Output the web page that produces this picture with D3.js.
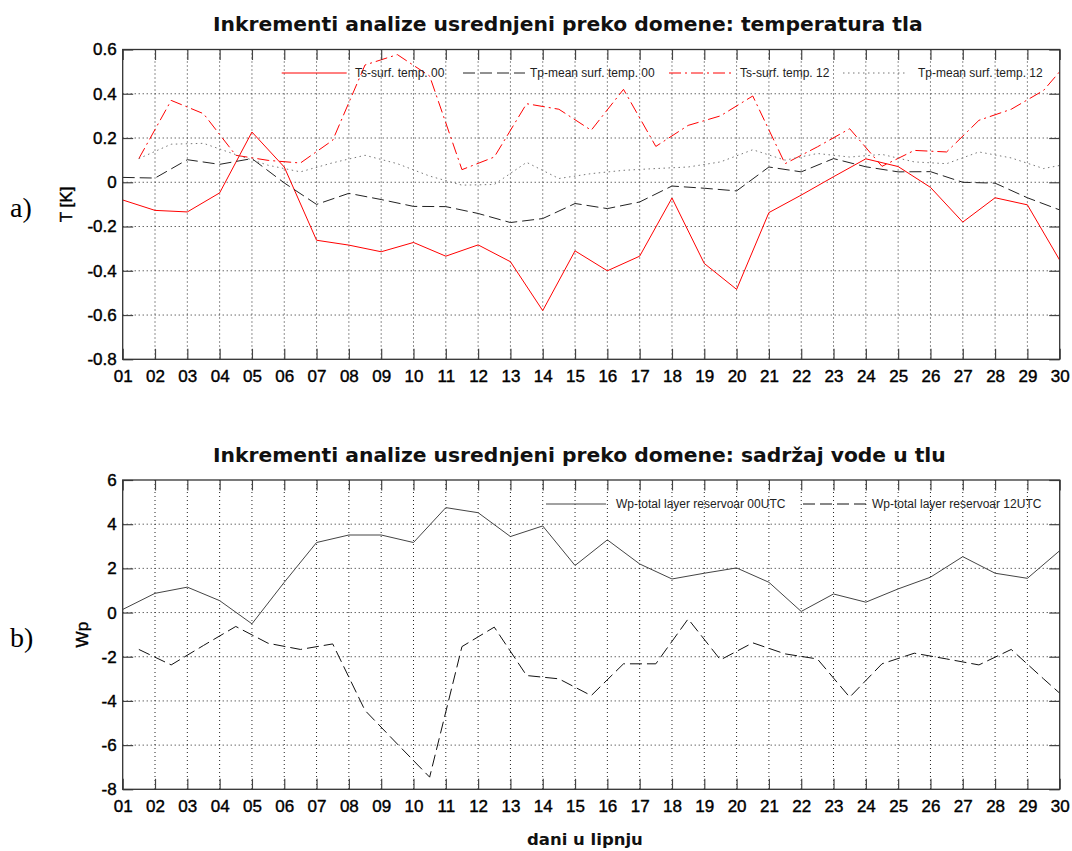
<!DOCTYPE html>
<html>
<head>
<meta charset="utf-8">
<script src="https://cdn.jsdelivr.net/npm/d3@7/dist/d3.min.js"></script>
<style>
body { margin: 0; background: #fff; }
</style>
</head>
<body>
<div id="my_dataviz"></div>
<script>
// * DATA
var dayLabels = ["01","02","03","04","05","06","07","08","09","10","11","12","13","14","15",
                 "16","17","18","19","20","21","22","23","24","25","26","27","28","29","30"];
var days00 = [1,2,3,4,5,6,7,8,9,10,11,12,13,14,15,16,17,18,19,20,21,22,23,24,25,26,27,28,29,30];
var days12 = [1.5,2.5,3.5,4.5,5.5,6.5,7.5,8.5,9.5,10.5,11.5,12.5,13.5,14.5,15.5,
              16.5,17.5,18.5,19.5,20.5,21.5,22.5,23.5,24.5,25.5,26.5,27.5,28.5,29.5,30.5];

// temperatura tla
var tsSurf00 = [-0.080,-0.127,-0.134,-0.048,0.227,0.069,-0.262,-0.284,-0.314,-0.272,
                -0.334,-0.283,-0.359,-0.580,-0.310,-0.400,-0.334,-0.071,-0.367,-0.484,
                -0.137,-0.058,0.025,0.106,0.071,-0.023,-0.180,-0.070,-0.102,-0.352];
var tpMean00 = [0.022,0.019,0.102,0.081,0.107,-0.003,-0.100,-0.050,-0.078,-0.109,
                -0.110,-0.141,-0.182,-0.164,-0.096,-0.119,-0.089,-0.017,-0.027,-0.039,
                0.069,0.047,0.107,0.070,0.047,0.048,0.000,-0.004,-0.070,-0.125];
var tsSurf12 = [0.107,0.370,0.310,0.122,0.099,0.087,0.190,0.530,0.577,0.480,
                0.057,0.114,0.355,0.330,0.235,0.420,0.162,0.257,0.300,0.390,
                0.084,0.160,0.242,0.072,0.144,0.137,0.280,0.330,0.415,0.585];
var tpMean12 = [0.107,0.172,0.176,0.125,0.077,0.047,0.088,0.122,0.084,0.028,
                -0.013,-0.010,0.090,0.017,0.039,0.054,0.062,0.069,0.092,0.147,
                0.100,0.130,0.114,0.126,0.092,0.084,0.137,0.110,0.062,0.090];
var tTicks = [-0.8,-0.6,-0.4,-0.2,0,0.2,0.4,0.6];

// sadrzaj vode u tlu
var wpTotal00 = [0.14,0.87,1.15,0.54,-0.51,1.37,3.17,3.51,3.51,3.17,
                 4.75,4.52,3.44,3.92,2.13,3.29,2.20,1.52,1.78,2.02,
                 1.37,0.05,0.84,0.47,1.07,1.60,2.53,1.78,1.55,2.80];
var wpTotal12 = [-1.67,-2.37,-1.49,-0.63,-1.39,-1.67,-1.42,-4.43,-5.95,-7.45,
                 -1.54,-0.66,-2.85,-3.00,-3.76,-2.32,-2.32,-0.29,-2.14,-1.37,
                 -1.87,-2.10,-3.83,-2.32,-1.84,-2.10,-2.37,-1.67,-3.00,-4.30];
var wpTicks = [-8,-6,-4,-2,0,2,4,6];

// * LAYOUT
var W = 1072, H = 851;
var plotLeft = 122.7, plotRight = 1059.7;
var tickLen = 10.5;

var svg = d3.select("#my_dataviz")
  .append("svg")
  .attr("width", W)
  .attr("height", H)
  .style("background", "#fff");

function Panel(p) {
  var x = d3.scaleLinear().domain([1, 30]).range([plotLeft, plotRight]);
  var y = d3.scaleLinear().domain(p.yDomain).range([p.bottom, p.top]);
  var g = svg.append("g");

  // title
  g.append("text")
    .attr("x", 213).attr("y", p.top - 18.5)
    .style("font-family", "DejaVu Sans")
    .style("font-weight", "bold")
    .style("font-size", "20.3px")
    .attr("fill", "#111")
    .text(p.title);

  // grid (dotted)
  g.append("g").selectAll("line").data(days00.slice(1, -1)).enter().append("line")
    .attr("x1", d => x(d)).attr("x2", d => x(d))
    .attr("y1", p.top).attr("y2", p.bottom)
    .attr("stroke", "#222").attr("stroke-width", 1)
    .attr("stroke-dasharray", "1,3");
  g.append("g").selectAll("line").data(p.ticks.slice(1, -1)).enter().append("line")
    .attr("x1", plotLeft).attr("x2", plotRight)
    .attr("y1", d => y(d)).attr("y2", d => y(d))
    .attr("stroke", "#222").attr("stroke-width", 1)
    .attr("stroke-dasharray", "1,3");

  // clip
  g.append("defs").append("clipPath").attr("id", p.id + "clip")
    .append("rect")
    .attr("x", plotLeft).attr("y", p.top)
    .attr("width", plotRight - plotLeft).attr("height", p.bottom - p.top);

  var lines = g.append("g").attr("clip-path", "url(#" + p.id + "clip)");
  p.series.forEach(function(s) {
    var pts = s.xs.map(function(d, i) { return [d, s.values[i]]; });
    lines.append("path")
      .datum(pts)
      .attr("fill", "none")
      .attr("stroke", s.color)
      .attr("stroke-width", s.width || 1)
      .attr("stroke-dasharray", s.dash)
      .attr("d", d3.line().x(d => x(d[0])).y(d => y(d[1])));
  });

  // axes (ticks inward on all four sides)
  var fmt = function(d) { return dayLabels[d - 1]; };
  var bottomAx = g.append("g").attr("transform", "translate(0," + p.bottom + ")")
    .call(d3.axisBottom(x).tickValues(days00).tickFormat(fmt)
      .tickSizeInner(-tickLen).tickSizeOuter(0).tickPadding(11));
  var topAx = g.append("g").attr("transform", "translate(0," + p.top + ")")
    .call(d3.axisTop(x).tickValues(days00).tickFormat("")
      .tickSizeInner(-tickLen).tickSizeOuter(0));
  var leftAx = g.append("g").attr("transform", "translate(" + plotLeft + ",0)")
    .call(d3.axisLeft(y).tickValues(p.ticks).tickFormat(p.fmt)
      .tickSizeInner(-tickLen).tickSizeOuter(0).tickPadding(6));
  var rightAx = g.append("g").attr("transform", "translate(" + plotRight + ",0)")
    .call(d3.axisRight(y).tickValues(p.ticks).tickFormat("")
      .tickSizeInner(-tickLen).tickSizeOuter(0));
  [bottomAx, topAx, leftAx, rightAx].forEach(function(a) {
    a.select(".domain").remove();
    a.selectAll(".tick line").attr("stroke", "#444").attr("stroke-width", 1.2);
    a.selectAll(".tick text")
      .style("font-family", "Liberation Sans, Arial, sans-serif")
      .style("font-size", "17px")
      .attr("fill", "#000")
      .attr("stroke", "#000")
      .attr("stroke-width", 0.4);
  });

  // box
  g.append("rect")
    .attr("x", plotLeft).attr("y", p.top)
    .attr("width", plotRight - plotLeft).attr("height", p.bottom - p.top)
    .attr("fill", "none").attr("stroke", "#333").attr("stroke-width", 1.3);

  // y label
  g.append("text")
    .attr("transform", "translate(" + p.ylabelX + "," + ((p.top + p.bottom) / 2) + ") rotate(-90)")
    .attr("text-anchor", "middle")
    .attr("dy", "0.35em")
    .style("font-family", "Liberation Sans, Arial, sans-serif")
    .style("font-size", "17px")
    .attr("fill", "#000")
    .attr("stroke", "#000")
    .attr("stroke-width", 0.4)
    .text(p.ylabel);

  // panel letter
  g.append("text")
    .attr("x", 10).attr("y", p.top + 167)
    .style("font-family", "Liberation Serif, Times New Roman, serif")
    .style("font-size", "28px")
    .attr("fill", "#000")
    .text(p.letter);

  // legend
  var ly = p.top + p.legendDy;
  p.series.forEach(function(s) {
    g.append("line")
      .attr("x1", s.leg[0]).attr("x2", s.leg[1])
      .attr("y1", ly).attr("y2", ly)
      .attr("stroke", s.color)
      .attr("stroke-width", s.width || 1)
      .attr("stroke-dasharray", s.dash);
    g.append("text")
      .attr("x", s.leg[2]).attr("y", ly).attr("dy", "0.35em")
      .style("font-family", "Liberation Sans, Arial, sans-serif")
      .style("font-size", "12px")
      .attr("fill", "#222")
      .text(s.name);
  });
}

Panel({
  id: "tla",
  title: "Inkrementi analize usrednjeni preko domene: temperatura tla",
  top: 49.5, bottom: 359.3,
  yDomain: [-0.8, 0.6], ticks: tTicks,
  fmt: function(d) { return d === 0 ? "0" : d3.format(".1f")(d).replace("\u2212", "-"); },
  ylabel: "T [K]", ylabelX: 66.5, letter: "a)", legendDy: 23.5,
  series: [
    {name: "Ts-surf. temp. 00", xs: days00, values: tsSurf00, color: "#ff0000", dash: null, leg: [281.7, 346.7, 355]},
    {name: "Tp-mean surf. temp. 00", xs: days00, values: tpMean00, color: "#222", dash: "12,5", leg: [463, 525, 530]},
    {name: "Ts-surf. temp. 12", xs: days12, values: tsSurf12, color: "#ff0000", dash: "12,4,2,4", leg: [669, 735, 740]},
    {name: "Tp-mean surf. temp. 12", xs: days12, values: tpMean12, color: "#777", dash: "1.5,3.5", leg: [843, 907, 918]}
  ]
});

Panel({
  id: "voda",
  title: "Inkrementi analize usrednjeni preko domene: sadržaj vode u tlu",
  top: 480, bottom: 789.3,
  yDomain: [-8, 6], ticks: wpTicks,
  fmt: function(d) { return String(d).replace("\u2212", "-"); },
  ylabel: "Wp", ylabelX: 82, letter: "b)", legendDy: 24,
  series: [
    {name: "Wp-total layer reservoar 00UTC", xs: days00, values: wpTotal00, color: "#444", dash: null, leg: [546, 606, 616]},
    {name: "Wp-total layer reservoar 12UTC", xs: days12, values: wpTotal12, color: "#111", dash: "12,5", leg: [803, 867, 872]}
  ]
});

// x label
svg.append("text")
  .attr("x", 527).attr("y", 845)
  .style("font-family", "DejaVu Sans")
  .style("font-weight", "bold")
  .style("font-size", "16.5px")
  .attr("fill", "#111")
  .text("dani u lipnju");
</script>
</body>
</html>
